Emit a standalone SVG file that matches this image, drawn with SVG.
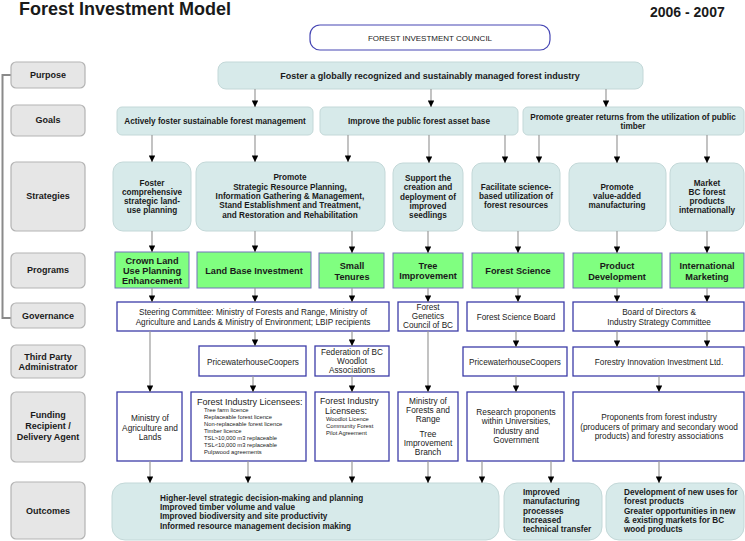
<svg xmlns="http://www.w3.org/2000/svg" width="745" height="541" viewBox="0 0 745 541">
<defs>
<marker id="ah" viewBox="0 0 10 10" refX="10" refY="5" markerWidth="8" markerHeight="6.5" markerUnits="userSpaceOnUse" orient="auto">
<path d="M0,0 L10,5 L0,10 z" fill="#000"/>
</marker>
<style>
text{font-family:"Liberation Sans",Arial,sans-serif;fill:#1a1a1a}
.c{text-anchor:middle}
.b{font-weight:bold}
.lbl rect{fill:#e6e6e6;stroke:#b3b3b3;stroke-width:1.2}
.lbl text{font-size:9px;font-weight:bold;text-anchor:middle}
.teal rect{fill:#d7eaea;stroke:#c3d8d8;stroke-width:1}
.teal text{font-weight:bold;font-size:8.2px}
.prog rect{fill:#80ff80;stroke:#7373b9;stroke-width:1}
.prog text{font-weight:bold;font-size:9.2px;text-anchor:middle}
.wb rect{fill:#fff;stroke:#3c3ca8;stroke-width:1.3}
.wb text{font-size:8.2px;fill:#222}
.wb text.sm{font-size:5.8px}
.wb text.m{font-size:8.3px}
#conn line{stroke:#9a9a9a;stroke-width:1.2;marker-end:url(#ah)}
</style>
</defs>
<rect width="745" height="541" fill="#fff"/>

<text x="19" y="15" class="b" style="font-size:18px">Forest Investment Model</text>
<text x="650" y="17" class="b" style="font-size:14px">2006 - 2007</text>

<g id="council">
<rect x="310" y="25" width="240" height="25" rx="10" fill="#fff" stroke="#4646b4" stroke-width="1.2"/>
<text x="430" y="41" class="c" style="font-size:8px">FOREST INVESTMENT COUNCIL</text>
</g>

<path d="M11,75 H2.5 V318 H11" fill="none" stroke="#8a8a8a" stroke-width="2"/>

<g id="lbl-purpose" class="lbl"><rect x="11" y="62" width="74" height="26" rx="5"/><text x="48" y="78">Purpose</text></g>
<g id="lbl-goals" class="lbl"><rect x="11" y="105" width="74" height="31" rx="5"/><text x="48" y="123">Goals</text></g>
<g id="lbl-strategies" class="lbl"><rect x="11" y="162" width="74" height="69" rx="5"/><text x="48" y="199">Strategies</text></g>
<g id="lbl-programs" class="lbl"><rect x="11" y="253" width="74" height="35" rx="5"/><text x="48" y="273">Programs</text></g>
<g id="lbl-governance" class="lbl"><rect x="11" y="303" width="74" height="25" rx="5"/><text x="48" y="319">Governance</text></g>
<g id="lbl-third" class="lbl"><rect x="11" y="345" width="74" height="33" rx="5"/><text x="48" y="360">Third Party</text><text x="48" y="369.5">Administrator</text></g>
<g id="lbl-funding" class="lbl"><rect x="11" y="392" width="74" height="70" rx="5"/><text x="48" y="417.5">Funding</text><text x="48" y="429">Recipient /</text><text x="48" y="439.5">Delivery Agent</text></g>
<g id="lbl-outcomes" class="lbl"><rect x="11" y="482" width="74" height="57" rx="5"/><text x="48" y="514">Outcomes</text></g>

<g id="purpose" class="teal"><rect x="218" y="62" width="425" height="27" rx="8"/><text x="430" y="79" class="c" style="font-size:9px">Foster a globally recognized and sustainably managed forest industry</text></g>

<g id="goal1" class="teal"><rect x="117" y="107" width="196" height="28" rx="5"/><text x="215" y="124" class="c">Actively foster sustainable forest management</text></g>
<g id="goal2" class="teal"><rect x="320" y="107" width="198" height="28" rx="5"/><text x="419" y="124" class="c">Improve the public forest asset base</text></g>
<g id="goal3" class="teal"><rect x="523" y="107" width="221" height="28" rx="5"/><text x="633" y="120" class="c">Promote greater returns from the utilization of public</text><text x="633" y="129" class="c">timber</text></g>

<g id="strat1" class="teal"><rect x="113" y="162" width="78" height="69" rx="10"/>
<text class="c" x="152" y="186">Foster</text><text class="c" x="152" y="195">comprehensive</text><text class="c" x="152" y="204">strategic land-</text><text class="c" x="152" y="213">use planning</text></g>
<g id="strat2" class="teal"><rect x="196" y="162" width="189" height="69" rx="10"/>
<text class="c" x="290" y="180">Promote</text><text class="c" x="290" y="189.5">Strategic Resource Planning,</text><text class="c" x="290" y="199">Information Gathering &amp; Management,</text><text class="c" x="290" y="208">Stand Establishment and Treatment,</text><text class="c" x="290" y="217.5">and Restoration and Rehabilitation</text></g>
<g id="strat3" class="teal"><rect x="393" y="163" width="70" height="68" rx="10"/>
<text class="c" x="428" y="181">Support the</text><text class="c" x="428" y="190">creation and</text><text class="c" x="428" y="199.5">deployment of</text><text class="c" x="428" y="208.5">improved</text><text class="c" x="428" y="218">seedlings</text></g>
<g id="strat4" class="teal"><rect x="472" y="163" width="88" height="68" rx="10"/>
<text class="c" x="516" y="190">Facilitate science-</text><text class="c" x="516" y="199">based utilization of</text><text class="c" x="516" y="208">forest resources</text></g>
<g id="strat5" class="teal"><rect x="569" y="163" width="97" height="68" rx="10"/>
<text class="c" x="617" y="190">Promote</text><text class="c" x="617" y="199">value-added</text><text class="c" x="617" y="208">manufacturing</text></g>
<g id="strat6" class="teal"><rect x="670" y="163" width="74" height="68" rx="10"/>
<text class="c" x="707" y="186">Market</text><text class="c" x="707" y="195">BC forest</text><text class="c" x="707" y="204">products</text><text class="c" x="707" y="213">internationally</text></g>

<g id="prog1" class="prog"><rect x="115" y="252" width="74" height="36"/><text x="152" y="263.5">Crown Land</text><text x="152" y="273.5">Use Planning</text><text x="152" y="283.5">Enhancement</text></g>
<g id="prog2" class="prog"><rect x="197" y="252" width="114" height="36"/><text x="254" y="273.5">Land Base Investment</text></g>
<g id="prog3" class="prog"><rect x="319" y="253" width="65" height="35"/><text x="352" y="269">Small</text><text x="352" y="279.5">Tenures</text></g>
<g id="prog4" class="prog"><rect x="393" y="253" width="70" height="35"/><text x="428" y="268.5">Tree</text><text x="428" y="279">Improvement</text></g>
<g id="prog5" class="prog"><rect x="472" y="253" width="92" height="35"/><text x="518" y="273.5">Forest Science</text></g>
<g id="prog6" class="prog"><rect x="573" y="253" width="89" height="35"/><text x="617" y="269">Product</text><text x="617" y="279.5">Development</text></g>
<g id="prog7" class="prog"><rect x="670" y="253" width="74" height="35"/><text x="707" y="269">International</text><text x="707" y="279.5">Marketing</text></g>

<g id="gov1" class="wb"><rect x="117" y="302" width="272" height="29"/><text class="c" x="253" y="315">Steering Committee: Ministry of Forests and Range, Ministry of</text><text class="c" x="253" y="324.5">Agriculture and Lands &amp; Ministry of Environment; LBIP recipients</text></g>
<g id="gov2" class="wb"><rect x="398" y="302" width="60" height="29"/><text class="c" x="428" y="310">Forest</text><text class="c" x="428" y="319">Genetics</text><text class="c" x="428" y="328">Council of BC</text></g>
<g id="gov3" class="wb"><rect x="467" y="302" width="97" height="29"/><text class="c" x="516" y="320">Forest Science Board</text></g>
<g id="gov4" class="wb"><rect x="573" y="302" width="171" height="29"/><text class="c" x="659" y="315">Board of Directors &amp;</text><text class="c" x="659" y="325">Industry Strategy Committee</text></g>

<g id="tp1" class="wb"><rect x="199" y="346" width="107" height="30"/><text class="c" x="253" y="365">PricewaterhouseCoopers</text></g>
<g id="tp2" class="wb"><rect x="315" y="346" width="74" height="30"/><text class="c" x="352" y="355">Federation of BC</text><text class="c" x="352" y="364">Woodlot</text><text class="c" x="352" y="373">Associations</text></g>
<g id="tp3" class="wb"><rect x="463" y="347" width="104" height="29"/><text class="c" x="515" y="365">PricewaterhouseCoopers</text></g>
<g id="tp4" class="wb"><rect x="573" y="347" width="171" height="29"/><text class="c" x="659" y="365">Forestry Innovation Investment Ltd.</text></g>

<g id="fr1" class="wb"><rect x="117" y="392" width="65" height="69"/><text class="c m" x="150" y="421">Ministry of</text><text class="c m" x="150" y="430.5">Agriculture and</text><text class="c m" x="150" y="440">Lands</text></g>
<g id="fr2" class="wb"><rect x="191" y="392" width="115" height="69"/>
<text x="197" y="405" style="font-size:9px">Forest Industry Licensees:</text>
<text class="sm" x="204" y="412">Tree farm licence</text>
<text class="sm" x="204" y="419">Replaceable forest licence</text>
<text class="sm" x="204" y="426">Non-replaceable forest licence</text>
<text class="sm" x="204" y="433">Timber licence</text>
<text class="sm" x="204" y="440">TSL&gt;10,000 m3 replaceable</text>
<text class="sm" x="204" y="447">TSL&lt;10,000 m3 replaceable</text>
<text class="sm" x="204" y="454">Pulpwood agreements</text></g>
<g id="fr3" class="wb"><rect x="315" y="392" width="74" height="69"/>
<text x="320" y="404" style="font-size:8.8px">Forest Industry</text>
<text x="325" y="414" style="font-size:8.8px">Licensees:</text>
<text class="sm" x="326" y="421">Woodlot Licence</text>
<text class="sm" x="326" y="428">Community Forest</text>
<text class="sm" x="326" y="435">Pilot Agreement</text></g>
<g id="fr4" class="wb"><rect x="398" y="392" width="60" height="69"/>
<text class="c m" x="428" y="404">Ministry of</text><text class="c m" x="428" y="413">Forests and</text><text class="c m" x="428" y="422">Range</text>
<text class="c m" x="428" y="437">Tree</text><text class="c m" x="428" y="446">Improvement</text><text class="c m" x="428" y="455">Branch</text></g>
<g id="fr5" class="wb"><rect x="467" y="392" width="97" height="69"/>
<text class="c m" x="516" y="415">Research proponents</text><text class="c m" x="516" y="424">within Universities,</text><text class="c m" x="516" y="433.5">Industry and</text><text class="c m" x="516" y="443">Government</text></g>
<g id="fr6" class="wb"><rect x="573" y="392" width="171" height="69"/>
<text class="c m" x="659" y="420">Proponents from forest industry</text><text class="c m" x="659" y="429.5">(producers of primary and secondary wood</text><text class="c m" x="659" y="439">products) and forestry associations</text></g>

<g id="out1" class="teal"><rect x="112" y="483" width="387" height="57" rx="13"/>
<text x="160" y="501">Higher-level strategic decision-making and planning</text>
<text x="160" y="510">Improved timber volume and value</text>
<text x="160" y="519">Improved biodiversity and site productivity</text>
<text x="160" y="528.5">Informed resource management decision making</text></g>
<g id="out2" class="teal"><rect x="504" y="483" width="98" height="57" rx="13"/>
<text x="523" y="495">Improved</text><text x="523" y="504">manufacturing</text><text x="523" y="513.5">processes</text><text x="523" y="522.5">Increased</text><text x="523" y="532">technical transfer</text></g>
<g id="out3" class="teal"><rect x="606" y="483" width="138" height="57" rx="13"/>
<text x="624" y="495">Development of new uses for</text><text x="624" y="504">forest products</text><text x="624" y="513.5">Greater opportunities in new</text><text x="624" y="522.5">&amp; existing markets for BC</text><text x="624" y="532">wood products</text></g>

<g id="conn">
<line x1="255" y1="89" x2="255" y2="107"/>
<line x1="431" y1="89" x2="431" y2="107"/>
<line x1="606" y1="89" x2="606" y2="107"/>
<line x1="152" y1="135" x2="152" y2="162"/>
<line x1="255" y1="135" x2="255" y2="162"/>
<line x1="348" y1="135" x2="348" y2="162"/>
<line x1="429" y1="135" x2="429" y2="163"/>
<line x1="505" y1="135" x2="505" y2="163"/>
<line x1="539" y1="135" x2="539" y2="163"/>
<line x1="617" y1="135" x2="617" y2="163"/>
<line x1="707" y1="135" x2="707" y2="163"/>
<line x1="152" y1="231" x2="152" y2="252"/>
<line x1="255" y1="231" x2="255" y2="252"/>
<line x1="352" y1="231" x2="352" y2="253"/>
<line x1="428" y1="231" x2="428" y2="253"/>
<line x1="518" y1="231" x2="518" y2="253"/>
<line x1="617" y1="231" x2="617" y2="253"/>
<line x1="707" y1="231" x2="707" y2="253"/>
<line x1="152" y1="288" x2="152" y2="302"/>
<line x1="255" y1="288" x2="255" y2="302"/>
<line x1="352" y1="288" x2="352" y2="302"/>
<line x1="428" y1="288" x2="428" y2="302"/>
<line x1="518" y1="288" x2="518" y2="302"/>
<line x1="617" y1="288" x2="617" y2="302"/>
<line x1="707" y1="288" x2="707" y2="302"/>
<line x1="255" y1="331" x2="255" y2="346"/>
<line x1="352" y1="331" x2="352" y2="346"/>
<line x1="516" y1="331" x2="516" y2="347"/>
<line x1="617" y1="331" x2="617" y2="347"/>
<line x1="707" y1="331" x2="707" y2="347"/>
<line x1="150" y1="331" x2="150" y2="392"/>
<line x1="428" y1="331" x2="428" y2="392"/>
<line x1="253" y1="376" x2="253" y2="392"/>
<line x1="352" y1="376" x2="352" y2="392"/>
<line x1="516" y1="376" x2="516" y2="392"/>
<line x1="659" y1="376" x2="659" y2="392"/>
<line x1="150" y1="461" x2="150" y2="483"/>
<line x1="248" y1="461" x2="248" y2="483"/>
<line x1="352" y1="461" x2="352" y2="483"/>
<line x1="428" y1="461" x2="428" y2="483"/>
<line x1="482" y1="461" x2="482" y2="483"/>
<line x1="551" y1="461" x2="551" y2="483"/>
<line x1="659" y1="461" x2="659" y2="483"/>
</g>
</svg>
